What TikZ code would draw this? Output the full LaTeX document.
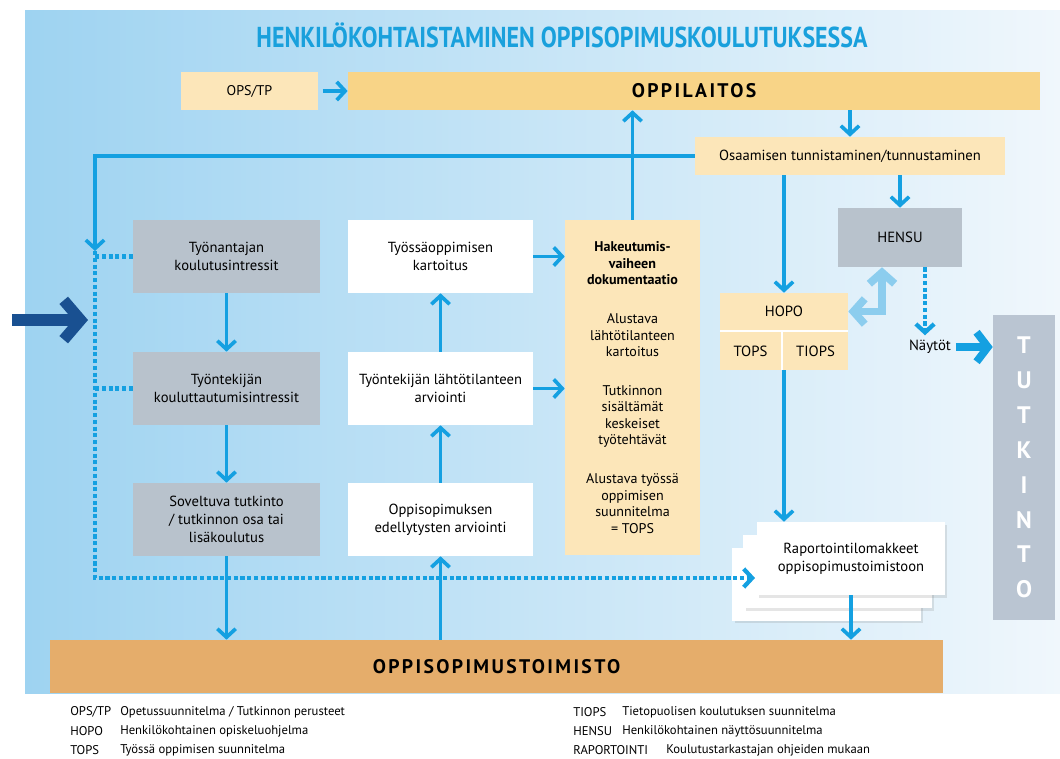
\documentclass[tikz,border=0pt]{standalone}
\usepackage{fontspec}
\setmainfont{PT Sans}
\newfontfamily\titlefont[FakeStretch=0.83]{PT Sans}
\newfontfamily\spacedfont[LetterSpace=12]{PT Sans}
\usetikzlibrary{arrows.meta,shadows}
\definecolor{bgleft}{RGB}{158,211,241}
\definecolor{bgright}{RGB}{240,247,252}
\definecolor{flowblue}{RGB}{20,160,225}
\definecolor{titleblue}{RGB}{25,160,220}
\definecolor{cream}{RGB}{252,230,185}
\definecolor{gold}{RGB}{248,212,135}
\definecolor{boxgray}{RGB}{184,194,204}
\definecolor{tutgray}{RGB}{186,197,210}
\definecolor{toimisto}{RGB}{229,173,107}
\definecolor{darkblue}{RGB}{25,80,145}
\definecolor{lightflow}{RGB}{140,205,238}
\begin{document}
\begin{tikzpicture}[x=0.025cm,y=-0.025cm,
  box/.style={align=center,inner sep=1pt,font=\fontsize{10.4}{12.6}\selectfont},
  graybox/.style={box,fill=boxgray,minimum width=4.675cm,minimum height=1.825cm},
  whitebox/.style={box,fill=white,minimum width=4.625cm,minimum height=1.825cm},
  creambox/.style={box,fill=cream},
  page/.style={fill=white,minimum width=4.7cm,minimum height=1.825cm,drop shadow={opacity=0.2,shadow xshift=1.5pt,shadow yshift=-2pt}},
  flow/.style={draw=flowblue,line width=2.6pt,-{Straight Barb[length=6pt,width=13pt]}},
  dots/.style={draw=flowblue,line width=3pt,dash pattern=on 3pt off 1.8pt},
  legend/.style={anchor=west,inner sep=0pt,font=\fontsize{9}{10}\selectfont},
]
\useasboundingbox (0,0) rectangle (1060,758);
\fill[left color=bgleft,right color=bgright] (25,10) rectangle (1060,693);

\node[text=titleblue,font=\titlefont\bfseries\fontsize{20.5}{22}\selectfont] (title) at (562,35) {HENKILÖKOHTAISTAMINEN OPPISOPIMUSKOULUTUKSESSA};

\node[creambox,minimum width=3.425cm,minimum height=0.95cm,font=\fontsize{10}{12}\selectfont] (opstp) at (249.5,91) {OPS/TP};
\node[fill=gold,minimum width=17.3cm,minimum height=0.95cm,font=\spacedfont\bfseries\fontsize{14}{16}\selectfont] (oppilaitos) at (694,91) {OPPILAITOS};
\node[creambox,minimum width=7.75cm,minimum height=0.95cm] (osaaminen) at (850,156) {Osaamisen tunnistaminen/tunnustaminen};
\node[box,fill=boxgray,minimum width=3.1cm,minimum height=1.475cm,font=\fontsize{10.5}{12}\selectfont] (hensu) at (900,237.5) {HENSU};

\fill[white] (720,293) rectangle (848,370);
\node[creambox,minimum width=3.2cm,minimum height=0.925cm,font=\fontsize{10.5}{12}\selectfont] (hopo) at (784,311.5) {HOPO};
\node[creambox,minimum width=1.525cm,minimum height=0.95cm,font=\fontsize{10.5}{12}\selectfont] (tops) at (750.5,351) {TOPS};
\node[creambox,minimum width=1.625cm,minimum height=0.95cm,font=\fontsize{10.5}{12}\selectfont] (tiops) at (815.5,351) {TIOPS};

\node[fill=tutgray,text=white,align=center,minimum width=1.55cm,minimum height=7.625cm,font=\bfseries\fontsize{17}{24.8}\selectfont] (tutkinto) at (1024,467.5) {T\\U\\T\\K\\I\\N\\T\\O};
\node[font=\fontsize{10.5}{12}\selectfont] (naytot) at (930,347) {Näytöt};

\node[graybox] (tyonantaja) at (226.5,256.5) {Työnantajan\\koulutusintressit};
\node[graybox] (tyontekija) at (226.5,388.5) {Työntekijän\\kouluttautumisintressit};
\node[graybox] (soveltuva) at (226.5,519.5) {Soveltuva tutkinto\\/ tutkinnon osa tai\\lisäkoulutus};

\node[whitebox] (kartoitus) at (440.5,256.5) {Työssäoppimisen\\kartoitus};
\node[whitebox] (arviointi) at (440.5,388.5) {Työntekijän lähtötilanteen\\arviointi};
\node[whitebox] (edellytykset) at (440.5,519.5) {Oppisopimuksen\\edellytysten arviointi};

\node[creambox,minimum width=3.375cm,minimum height=8.375cm,font=\fontsize{10}{11.7}\selectfont] (hakeutuminen) at (632.5,387.5) {\textbf{Hakeutumis-}\\\textbf{vaiheen}\\\textbf{dokumentaatio}\\[16pt]Alustava\\lähtötilanteen\\kartoitus\\[16pt]Tutkinnon\\sisältämät\\keskeiset\\työtehtävät\\[16pt]Alustava työssä\\oppimisen\\suunnitelma\\= TOPS};

\node[page] (rap3) at (826.5,584) {};
\node[page] (rap2) at (837.5,571.5) {};
\node[page,box] (rap) at (851,558.5) {Raportointilomakkeet\\oppisopimustoimistoon};

\node[fill=toimisto,minimum width=22.325cm,minimum height=1.325cm,font=\spacedfont\bfseries\fontsize{14}{16}\selectfont] (toimisto) at (496.5,666.5) {OPPISOPIMUSTOIMISTO};

\coordinate (tulo) at (95,156);
\coordinate (dotsalku) at (95,251);
\coordinate (dotskulma) at (95,578);
\coordinate (rapin) at (755,578);
\coordinate (nayttoalku) at ([xshift=0.625cm]hensu.south);
\coordinate (mutka) at (882,311.5);
\coordinate (sisaan) at (12,320);
\coordinate (sisaan2) at (88,320);

\draw[flow,shorten <=3pt] (opstp) -- (oppilaitos);
\draw[flow] (hakeutuminen.north) -- (hakeutuminen.north |- oppilaitos.south);
\draw[flow] (oppilaitos.south -| osaaminen.north) -- (osaaminen.north);
\draw[flow] (osaaminen.south -| hensu.north) -- (hensu.north);
\draw[flow] (osaaminen.south -| hopo.north) -- (hopo.north);
\draw[flow] (osaaminen.west) -- (tulo) -- (dotsalku);

\draw[flow] (tyonantaja) -- (tyontekija);
\draw[flow] (tyontekija) -- (soveltuva);
\draw[flow] (soveltuva.south) -- (soveltuva.south |- toimisto.north);
\draw[flow] (arviointi) -- (kartoitus);
\draw[flow] (edellytykset) -- (arviointi);
\draw[flow] (toimisto.north -| edellytykset.south) -- (edellytykset.south);
\draw[flow] (kartoitus) -- (kartoitus -| hakeutuminen.west);
\draw[flow] (arviointi) -- (arviointi -| hakeutuminen.west);
\draw[flow] (hopo.south |- tops.south) -- (hopo.south |- rap.north);
\draw[flow] (rap.south) -- (rap.south |- toimisto.north);

\draw[dots,-{Straight Barb[length=6pt,width=13pt]}] (dotsalku) -- (dotskulma) -- (rapin);
\draw[dots] (dotsalku |- tyonantaja.west) -- (tyonantaja.west);
\draw[dots] (dotsalku |- tyontekija.west) -- (tyontekija.west);
\draw[dots,-{Straight Barb[length=6pt,width=13pt]}] (nayttoalku) -- (nayttoalku |- naytot.north);

\draw[draw=flowblue,line width=5.5pt,-{Straight Barb[length=8pt,width=21pt]}] (naytot.east) -- (naytot.east -| tutkinto.west);
\draw[draw=lightflow,line width=5.5pt,{Straight Barb[length=8pt,width=18pt]}-{Straight Barb[length=8pt,width=18pt]}] (hopo.east) -- (mutka) -- (mutka |- hensu.south);
\draw[draw=darkblue,line width=8pt,-{Straight Barb[length=12pt,width=28pt]}] (sisaan) -- (sisaan2);

\node[legend] (l1) at (70,712) {OPS/TP};
\node[legend] (l1b) at (120,712) {Opetussuunnitelma / Tutkinnon perusteet};
\node[legend] (l2) at (70,731) {HOPO};
\node[legend] (l2b) at (120,731) {Henkilökohtainen opiskeluohjelma};
\node[legend] (l3) at (70,750) {TOPS};
\node[legend] (l3b) at (120,750) {Työssä oppimisen suunnitelma};
\node[legend] (r1) at (573,712) {TIOPS};
\node[legend] (r1b) at (622,712) {Tietopuolisen koulutuksen suunnitelma};
\node[legend] (r2) at (573,731) {HENSU};
\node[legend] (r2b) at (622,731) {Henkilökohtainen näyttösuunnitelma};
\node[legend] (r3) at (573,750) {RAPORTOINTI};
\node[legend] (r3b) at (666,750) {Koulutustarkastajan ohjeiden mukaan};
\end{tikzpicture}
\end{document}
